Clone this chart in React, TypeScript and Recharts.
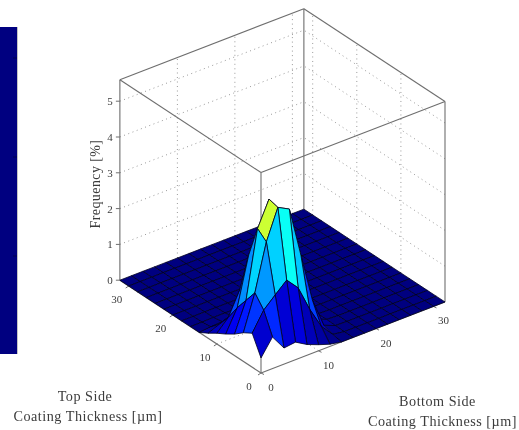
import { ReferenceArea, ReferenceLine, Scatter, ScatterChart, XAxis, YAxis } from "recharts";

const W = 519;
const H = 430;

// grid nodes, both thickness axes (um)
const thickness = [0, 2, 4, 6, 8, 10, 12, 14, 16, 18, 20, 22, 24, 26, 28, 30, 32];

// frequency [%], one row per top-side node, columns are bottom-side nodes
const zy0 = [0.42, 0.88, 0.45, 0.49, 0.3, 0.17, 0.06, 0, 0, 0, 0, 0, 0, 0, 0, 0, 0];
const zy2 = [0.95, 1.47, 1.77, 2.06, 1.72, 1.0, 0.4, 0.05, 0, 0, 0, 0, 0, 0, 0, 0, 0];
const zy4 = [0.8, 1.79, 3.09, 3.93, 3.76, 2.35, 0.97, 0.14, 0.01, 0, 0, 0, 0, 0, 0, 0, 0];
const zy6 = [0.6, 1.42, 3.3, 4.0, 3.2, 2.5, 0.9, 0.15, 0.02, 0, 0, 0, 0, 0, 0, 0, 0];
const zy8 = [0.44, 1.05, 2.4, 3.0, 2.5, 1.8, 0.6, 0.1, 0.01, 0, 0, 0, 0, 0, 0, 0, 0];
const zy10 = [0.3, 0.62, 1.27, 1.3, 1.2, 0.9, 0.25, 0.03, 0, 0, 0, 0, 0, 0, 0, 0, 0];
const zy12 = [0.14, 0.27, 0.4, 0.35, 0.25, 0.1, 0.03, 0, 0, 0, 0, 0, 0, 0, 0, 0, 0];
const zy14 = [0, 0.03, 0.05, 0.05, 0.02, 0, 0, 0, 0, 0, 0, 0, 0, 0, 0, 0, 0];
const zy16 = [0, 0, 0.01, 0.01, 0, 0, 0, 0, 0, 0, 0, 0, 0, 0, 0, 0, 0];
const zy18 = [0, 0, 0, 0, 0, 0, 0, 0, 0, 0, 0, 0, 0, 0, 0, 0, 0];
const zy20 = [0, 0, 0, 0, 0, 0, 0, 0, 0, 0, 0, 0, 0, 0, 0, 0, 0];
const zy22 = [0, 0, 0, 0, 0, 0, 0, 0, 0, 0, 0, 0, 0, 0, 0, 0, 0];
const zy24 = [0, 0, 0, 0, 0, 0, 0, 0, 0, 0, 0, 0, 0, 0, 0, 0, 0];
const zy26 = [0, 0, 0, 0, 0, 0, 0, 0, 0, 0, 0, 0, 0, 0, 0, 0, 0];
const zy28 = [0, 0, 0, 0, 0, 0, 0, 0, 0, 0, 0, 0, 0, 0, 0, 0, 0];
const zy30 = [0, 0, 0, 0, 0, 0, 0, 0, 0, 0, 0, 0, 0, 0, 0, 0, 0];
const zy32 = [0, 0, 0, 0, 0, 0, 0, 0, 0, 0, 0, 0, 0, 0, 0, 0, 0];
const surface = [zy0, zy2, zy4, zy6, zy8, zy10, zy12, zy14, zy16, zy18, zy20, zy22, zy24, zy26, zy28, zy30, zy32];

const zTicks = [0, 1, 2, 3, 4, 5];
const sideTicks = [0, 10, 20, 30];

const SIDE_MAX = 32;
const Z_MAX = 5.6;
const C_MAX = 5.37;

// view of the 3d box, in chart units
const project = (x: number, y: number, z: number) => ({
  x: 261 + 5.75 * x - 4.41 * y,
  y: 373 - 2.22 * x - 2.9 * y - 35.8 * z,
});

const clamp = (v: number) => Math.max(0, Math.min(1, v));
const jet = (v: number) => {
  const t = clamp(v / C_MAX);
  const c = (o: number) => Math.round(255 * clamp(1.5 - Math.abs(4 * t - o)));
  return `rgb(${c(3)},${c(2)},${c(1)})`;
};

// back to front so nearer cells paint over farther ones
const cells: any[] = [];
for (let j = thickness.length - 2; j >= 0; j--) {
  for (let i = thickness.length - 2; i >= 0; i--) {
    const corners = [
      project(thickness[i], thickness[j], surface[j][i]),
      project(thickness[i + 1], thickness[j], surface[j][i + 1]),
      project(thickness[i + 1], thickness[j + 1], surface[j + 1][i + 1]),
      project(thickness[i], thickness[j + 1], surface[j + 1][i]),
    ];
    cells.push({
      x: corners.reduce((s, c) => s + c.x, 0) / 4,
      y: corners.reduce((s, c) => s + c.y, 0) / 4,
      corners,
      fill: jet(surface[j][i]),
    });
  }
}

type P = [number, number, number];
const seg = (a: P, b: P) => [project(...a), project(...b)];

const M = SIDE_MAX;
const T = Z_MAX;
const boxLines = [
  seg([0, 0, 0], [M, 0, 0]),
  seg([0, 0, 0], [0, M, 0]),
  seg([0, M, 0], [0, M, T]),
  seg([M, 0, 0], [M, 0, T]),
  seg([M, M, 0], [M, M, T]),
  seg([0, 0, 0], [0, 0, T]),
  seg([0, M, T], [M, M, T]),
  seg([M, 0, T], [M, M, T]),
  seg([0, M, T], [0, 0, T]),
  seg([M, 0, T], [0, 0, T]),
];

const gridLines = [
  ...zTicks.filter((z) => z > 0).flatMap((z) => [seg([0, M, z], [M, M, z]), seg([M, 0, z], [M, M, z])]),
  ...sideTicks.filter((t) => t > 0).flatMap((t) => [seg([t, M, 0], [t, M, T]), seg([M, t, 0], [M, t, T])]),
  ...sideTicks.filter((t) => t > 0).flatMap((t) => [seg([t, 0, 0], [t, M, 0]), seg([0, t, 0], [M, t, 0])]),
];

const tickMarks = [
  ...zTicks.map((z) => {
    const p = project(0, M, z);
    return [p, { x: p.x - 4, y: p.y }];
  }),
  ...sideTicks.map((t) => {
    const p = project(0, t, 0);
    return [p, { x: p.x - 3, y: p.y + 2 }];
  }),
  ...sideTicks.map((t) => {
    const p = project(t, 0, 0);
    return [p, { x: p.x + 3, y: p.y + 1.5 }];
  }),
];

const labels = [
  ...zTicks.map((z) => {
    const p = project(0, M, z);
    return { x: p.x - 10, y: p.y, text: String(z), size: 11 };
  }),
  ...sideTicks.map((t) => {
    const p = project(0, t, 0);
    return { x: p.x - 12, y: p.y + 13, text: String(t), size: 11 };
  }),
  ...sideTicks.map((t) => {
    const p = project(t, 0, 0);
    return { x: p.x + 10, y: p.y + 14, text: String(t), size: 11 };
  }),
  { x: 95, y: 184, text: "Frequency [%]", size: 14, rotate: -90, spacing: 0.4 },
  { x: 85, y: 396, text: "Top Side", size: 14.2, spacing: 0.5 },
  { x: 88, y: 416, text: "Coating Thickness [µm]", size: 14.2, spacing: 0.5 },
  { x: 437.5, y: 401, text: "Bottom Side", size: 14.2, spacing: 0.5 },
  { x: 442.5, y: 421, text: "Coating Thickness [µm]", size: 14.2, spacing: 0.5 },
];

const barTicks = [58, 157, 256];

const noDot = () => <g />;

function CellShape(props: any) {
  const { cx, cy, payload } = props;
  const pts = payload.corners.map((c: any) => `${cx + c.x - payload.x},${cy + c.y - payload.y}`).join(" ");
  return <polygon points={pts} fill={payload.fill} stroke="#000020" strokeWidth={0.8} strokeLinejoin="round" />;
}

function LabelShape(props: any) {
  const { cx, cy, payload } = props;
  return (
    <text
      x={cx}
      y={cy}
      fontSize={payload.size}
      fontFamily="'Liberation Serif', serif"
      letterSpacing={payload.spacing}
      fill="#3c3c3c"
      textAnchor="middle"
      dominantBaseline="central"
      transform={payload.rotate ? `rotate(${payload.rotate} ${cx} ${cy})` : undefined}
    >
      {payload.text}
    </text>
  );
}

export default function App() {
  return (
    <div style={{ position: "absolute", left: 0, top: 0, width: W, height: H, background: "#fff", filter: "blur(0.6px)" }}>
      <ScatterChart width={W} height={H} margin={{ top: 0, right: 0, bottom: 0, left: 0 }}>
        <XAxis type="number" dataKey="x" domain={[0, W]} hide allowDataOverflow />
        <YAxis type="number" dataKey="y" domain={[0, H]} reversed hide allowDataOverflow />
        <ReferenceArea x1={0} x2={17} y1={27} y2={354} fill="#000080" fillOpacity={1} stroke="none" ifOverflow="visible" />
        <ReferenceLine segment={[{ x: 17.5, y: 27 }, { x: 17.5, y: 354 }]} stroke="#c4c4c4" strokeWidth={1} ifOverflow="visible" />
        {barTicks.map((b) => (
          <ReferenceLine key={b} segment={[{ x: 13, y: b }, { x: 17, y: b }]} stroke="#000050" strokeWidth={1} ifOverflow="visible" />
        ))}
        {gridLines.map((g, i) => (
          <Scatter
            key={`grid-${i}`}
            data={g}
            shape={noDot}
            line={{ stroke: "#9a9a9a", strokeWidth: 1, strokeDasharray: "1 3.5" }}
            isAnimationActive={false}
          />
        ))}
        {boxLines.map((g, i) => (
          <Scatter
            key={`box-${i}`}
            data={g}
            shape={noDot}
            line={{ stroke: "#6e6e6e", strokeWidth: 1.1 }}
            isAnimationActive={false}
          />
        ))}
        {tickMarks.map((g, i) => (
          <Scatter
            key={`tick-${i}`}
            data={g}
            shape={noDot}
            line={{ stroke: "#6e6e6e", strokeWidth: 1 }}
            isAnimationActive={false}
          />
        ))}
        <Scatter data={cells} shape={CellShape} isAnimationActive={false} />
        <Scatter data={labels} shape={LabelShape} isAnimationActive={false} />
      </ScatterChart>
    </div>
  );
}
